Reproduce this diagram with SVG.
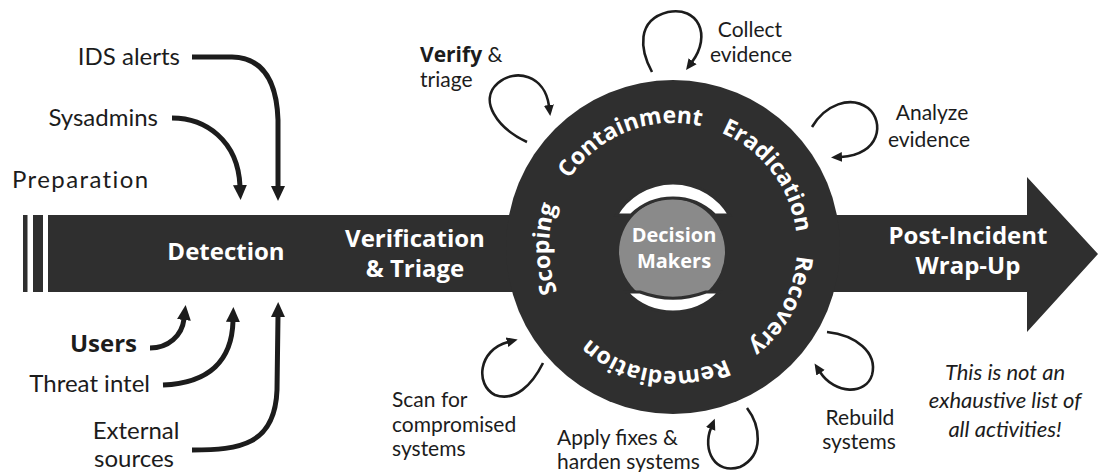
<svg xmlns="http://www.w3.org/2000/svg" width="1100" height="472" viewBox="0 0 1100 472">
<style>
.lbl{font-family:Lato,"Open Sans",sans-serif;font-size:24px;fill:#1c1c1c}
.sm{font-family:Lato,"Open Sans",sans-serif;font-size:21px;fill:#1c1c1c}
.b{font-family:"Open Sans",Lato,sans-serif;font-weight:700}
.wt{font-family:"Open Sans",Lato,sans-serif;font-weight:700;fill:#ffffff}
.ring{font-family:"Open Sans",Lato,sans-serif;font-weight:700;font-size:23px;fill:#ffffff}
.it{font-family:Lato,"Open Sans",sans-serif;font-style:italic;font-size:22px;fill:#1c1c1c}
.thick{fill:none;stroke:#1c1c1c;stroke-width:5;marker-end:url(#bigHead)}
.thin{fill:none;stroke:#1c1c1c;stroke-width:2.6;marker-end:url(#smallHead)}
.dark{fill:#2f2f2f}
.cres{fill:#ffffff;stroke:#2f2f2f;stroke-width:3}
</style>
<defs>
<marker id="bigHead" markerUnits="userSpaceOnUse" markerWidth="16" markerHeight="16" viewBox="0 0 16 16" refX="1" refY="8" orient="auto">
<path d="M0,1 L15,8 L0,15 Z" fill="#1c1c1c"/>
</marker>
<marker id="smallHead" markerUnits="userSpaceOnUse" markerWidth="12" markerHeight="12" viewBox="0 0 12 12" refX="1" refY="6" orient="auto">
<path d="M0,1 L11,6 L0,11 Z" fill="#1c1c1c"/>
</marker>
<path id="ringPath" d="M571.42,318.12 A124,124 0 1 1 774.58,175.88 A124,124 0 1 1 571.42,318.12"/>
</defs>

<g id="timeline">
<rect class="dark" x="23" y="215" width="4.5" height="77"/>
<rect class="dark" x="33" y="215" width="10" height="77"/>
<path class="dark" d="M48,215 L1027,215 L1027,177 L1098,254 L1027,332 L1027,292 L48,292 Z"/>
</g>

<g id="incident-circle">
<circle class="dark" cx="673" cy="247" r="167"/>
<circle cx="672" cy="252" r="53" fill="#8a8a8a"/>
<path class="cres" d="M616.4,215 A66,66 0 0 1 729.6,215 L715,215 A60.4,60.4 0 0 0 631,215 Z"/>
<path class="cres" d="M626.5,292 A64,64 0 0 0 719.5,292 L706,292 A94,94 0 0 1 640,292 Z"/>
</g>

<g id="decision-makers">
<text class="wt" x="674" y="242" font-size="20" text-anchor="middle">Decision</text>
<text class="wt" x="674" y="268" font-size="20" text-anchor="middle">Makers</text>
</g>

<g id="ring-phases">
<text class="ring" text-anchor="middle"><textPath href="#ringPath" startOffset="74">Scoping</textPath></text>
<text class="ring" text-anchor="middle"><textPath href="#ringPath" startOffset="223">Containment</textPath></text>
<text class="ring" text-anchor="middle"><textPath href="#ringPath" startOffset="385">Eradication</textPath></text>
<text class="ring" text-anchor="middle"><textPath href="#ringPath" startOffset="526">Recovery</textPath></text>
<text class="ring" text-anchor="middle"><textPath href="#ringPath" startOffset="678">Remediation</textPath></text>
</g>

<g id="preparation"><text class="lbl" x="12" y="188" font-size="31" letter-spacing="1.4">Preparation</text></g>
<g id="detection"><text class="wt" x="226" y="260" font-size="24" text-anchor="middle">Detection</text></g>
<g id="verification-triage">
<text class="wt" x="415" y="247" font-size="24" text-anchor="middle">Verification</text>
<text class="wt" x="415" y="277" font-size="24" text-anchor="middle">&amp; Triage</text>
</g>
<g id="post-incident">
<text class="wt" x="968" y="244" font-size="24" text-anchor="middle">Post-Incident</text>
<text class="wt" x="968" y="274" font-size="24" text-anchor="middle">Wrap-Up</text>
</g>

<g id="ids-alerts"><text class="lbl" x="180" y="65" text-anchor="end">IDS alerts</text></g>
<g id="sysadmins"><text class="lbl" x="158" y="126" font-size="22.5" text-anchor="end">Sysadmins</text></g>
<g id="users"><text class="lbl b" x="137" y="352" text-anchor="end">Users</text></g>
<g id="threat-intel"><text class="lbl" x="150" y="392" text-anchor="end">Threat intel</text></g>
<g id="external-sources">
<text class="lbl" x="136" y="439" text-anchor="middle">External</text>
<text class="lbl" x="134" y="467" text-anchor="middle">sources</text>
</g>

<g id="verify-triage">
<text class="sm" x="420" y="62"><tspan class="b">Verify</tspan> &amp;</text>
<text class="sm" x="420" y="87">triage</text>
</g>
<g id="collect-evidence">
<text class="sm" x="750" y="37" text-anchor="middle">Collect</text>
<text class="sm" x="751" y="62" text-anchor="middle">evidence</text>
</g>
<g id="analyze-evidence">
<text class="sm" x="932" y="120" text-anchor="middle">Analyze</text>
<text class="sm" x="929" y="147" text-anchor="middle">evidence</text>
</g>
<g id="rebuild-systems">
<text class="sm" x="860" y="425" text-anchor="middle">Rebuild</text>
<text class="sm" x="859" y="449" text-anchor="middle">systems</text>
</g>
<g id="scan-compromised">
<text class="sm" x="392" y="407">Scan for</text>
<text class="sm" x="392" y="432">compromised</text>
<text class="sm" x="392" y="456">systems</text>
</g>
<g id="apply-fixes">
<text class="sm" x="557" y="445">Apply fixes &amp;</text>
<text class="sm" x="557" y="469">harden systems</text>
</g>
<g id="note">
<text class="it" x="1005" y="380" text-anchor="middle">This is not an</text>
<text class="it" x="1005" y="408" text-anchor="middle">exhaustive list of</text>
<text class="it" x="1005" y="437" text-anchor="middle">all activities!</text>
</g>

<g id="connectors">
<path class="thick" d="M192,57 L232,57 Q276,58 278,120 L278,187"/>
<path class="thick" d="M172,118 C205,118 238,140 240,186"/>
<path class="thick" d="M150,348 C168,348 182,336 184,319"/>
<path class="thick" d="M163,385 C210,383 232,360 233,321"/>
<path class="thick" d="M192,450 C240,450 275,445 277,390 L278,316"/>
<path class="thin" d="M527,142 C497,128 478,100 498,83 C515,68 545,75 549,106"/>
<path class="thin" d="M652,72 C640,50 636,20 668,12 C698,6 712,35 692,62"/>
<path class="thin" d="M812,127 C825,105 850,95 868,108 C885,122 880,155 841,157"/>
<path class="thin" d="M827,332 C855,335 878,352 872,375 C866,395 835,395 820,372"/>
<path class="thin" d="M543,363 C532,385 515,402 495,395 C475,385 478,350 508,342"/>
<path class="thin" d="M747,408 C760,425 765,455 740,467 C715,475 702,450 711,428"/>
</g>
</svg>
